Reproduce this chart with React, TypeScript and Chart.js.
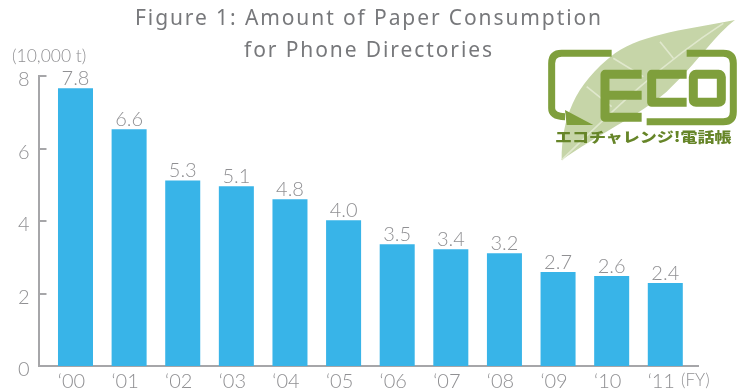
import React, { useEffect, useRef } from "react";
import { Chart, registerables } from "chart.js";

Chart.register(...registerables);

const fiscalYears = ["‘00", "‘01", "‘02", "‘03", "‘04", "‘05", "‘06", "‘07", "‘08", "‘09", "‘10", "‘11"];
// Bar heights as drawn in the picture (slightly below the printed values)
const barHeights = [7.66, 6.53, 5.12, 4.96, 4.6, 4.02, 3.36, 3.22, 3.11, 2.59, 2.48, 2.29];
const printedValues = ["7.8", "6.6", "5.3", "5.1", "4.8", "4.0", "3.5", "3.4", "3.2", "2.7", "2.6", "2.4"];
const yTicks = [0, 2, 4, 6, 8];
const titleLines = ["Figure 1: Amount of Paper Consumption", "for Phone Directories"];
const yUnit = "(10,000 t)";
const xUnit = "(FY)";
const logoWord = "エコチャレンジ!電話帳";

const GREY = "#909093";
const AXIS = "#a6a6a9";
const THIN = "Lato, 'Noto Sans', sans-serif";

const annotations = {
  id: "annotations",
  afterDatasetsDraw(chart: any) {
    const { ctx, scales, chartArea } = chart;
    ctx.save();
    // inward tick marks on the value axis
    ctx.strokeStyle = AXIS;
    ctx.lineWidth = 2;
    yTicks.forEach((t) => {
      const y = Math.round(scales.y.getPixelForValue(t));
      if (t === 0) return;
      ctx.beginPath();
      ctx.moveTo(chartArea.left, y);
      ctx.lineTo(chartArea.left + 8, y);
      ctx.stroke();
    });
    // printed values over bars
    ctx.fillStyle = GREY;
    ctx.font = `300 20px ${THIN}`;
    ctx.textAlign = "center";
    ctx.textBaseline = "alphabetic";
    chart.getDatasetMeta(0).data.forEach((bar: any, i: number) => {
      ctx.fillText(printedValues[i], bar.x, bar.y - 3);
    });
    // unit labels
    ctx.font = `300 17.5px ${THIN}`;
    ctx.textAlign = "left";
    ctx.fillText(yUnit, 12, 62);
    ctx.font = `300 17px ${THIN}`;
    ctx.fillText(xUnit, 681, 386);
    // title
    ctx.fillStyle = "#77787b";
    ctx.font = "21px 'Noto Sans', sans-serif";
    ctx.textAlign = "center";
    (ctx as any).letterSpacing = "1.9px";
    ctx.fillText(titleLines[0], 369, 25);
    ctx.fillText(titleLines[1], 369, 57);
    ctx.restore();
  },
};

function EcoLogo() {
  const green = "#7f9f3c";
  return (
    <svg
      width={746}
      height={392}
      style={{ position: "absolute", left: 0, top: 0, pointerEvents: "none" }}
    >
      <g transform="translate(530 20) scale(0.3333)">
        <path
          d="M95 420 C95 300 130 195 255 100 C340 40 490 25 615 0 C560 40 500 130 410 215 C330 285 200 345 95 420 Z"
          fill="#c6d5a8"
        />
        <path
          d="M95 420 C220 300 380 140 580 10 M170 200 L245 260 M250 115 L340 170 M390 65 L430 115"
          stroke="#e0e8cd"
          strokeWidth={5}
          fill="none"
        />
        <g fill="none" stroke={green} strokeWidth={21} strokeLinejoin="round">
          <path d="M245 100 H95 Q65 100 65 130 V265 Q65 290 105 290" />
          <path d="M470 100 H580 Q610 100 610 130 V275 Q610 305 580 305 H350" />
        </g>
        <g fill="none" stroke={green} strokeWidth={27} strokeLinejoin="round">
          <path d="M335 163 H225 V292 H335 M225 226 H335" />
          <path d="M470 163 H365 V247 H470" />
          <rect x={490} y={163} width={84} height={84} rx={8} />
        </g>
        <path d="M105 270 L190 315 H110 Z" fill={green} />
        <text
          x={75}
          y={366}
          fill="#668528"
          fontFamily="'Noto Sans CJK JP', sans-serif"
          fontWeight={900}
          fontSize={42}
          textLength={530}
          lengthAdjust="spacingAndGlyphs"
        >
          {logoWord}
        </text>
      </g>
    </svg>
  );
}

export default function App() {
  const ref = useRef<HTMLCanvasElement>(null);
  useEffect(() => {
    const chart = new Chart(ref.current!, {
      type: "bar",
      data: {
        datasets: [
          {
            data: barHeights.map((v, i) => ({ x: i, y: v })),
            backgroundColor: "#38b4e8",
            borderWidth: 0,
            barPercentage: 1,
            categoryPercentage: 0.653,
          },
        ],
      },
      plugins: [annotations],
      options: {
        animation: false,
        responsive: false,
        layout: { padding: { top: 76, right: 48, left: 0, bottom: 0 } },
        plugins: { legend: { display: false }, title: { display: false }, tooltip: { enabled: false } },
        scales: {
          x: {
            type: "linear",
            offset: false,
            min: -0.69,
            max: 11.61,
            afterFit: (s: any) => { s.height = 26; },
            grid: { display: false, drawTicks: false, offset: false },
            border: { color: AXIS, width: 2 },
            ticks: {
              stepSize: 1,
              includeBounds: false,
              autoSkip: false,
              maxRotation: 0,
              labelOffset: -4,
              padding: 4,
              color: GREY,
              font: { family: THIN, size: 20, weight: "300" },
              callback: (v: any) => fiscalYears[v] ?? "",
            },
          },
          y: {
            min: 0,
            max: 8,
            afterFit: (s: any) => { s.width = 38.5; },
            grid: { display: false, drawTicks: false },
            border: { color: AXIS, width: 2 },
            ticks: {
              stepSize: 2,
              labelOffset: 4,
              padding: 9,
              color: GREY,
              font: { family: THIN, size: 20, weight: "300" },
            },
          },
        },
      } as any,
    });
    return () => chart.destroy();
  }, []);
  return (
    <div style={{ position: "fixed", left: 0, top: 0, width: 746, height: 392, background: "#fff" }}>
      <canvas ref={ref} width={746} height={392} style={{ display: "block" }} />
      <EcoLogo />
    </div>
  );
}
